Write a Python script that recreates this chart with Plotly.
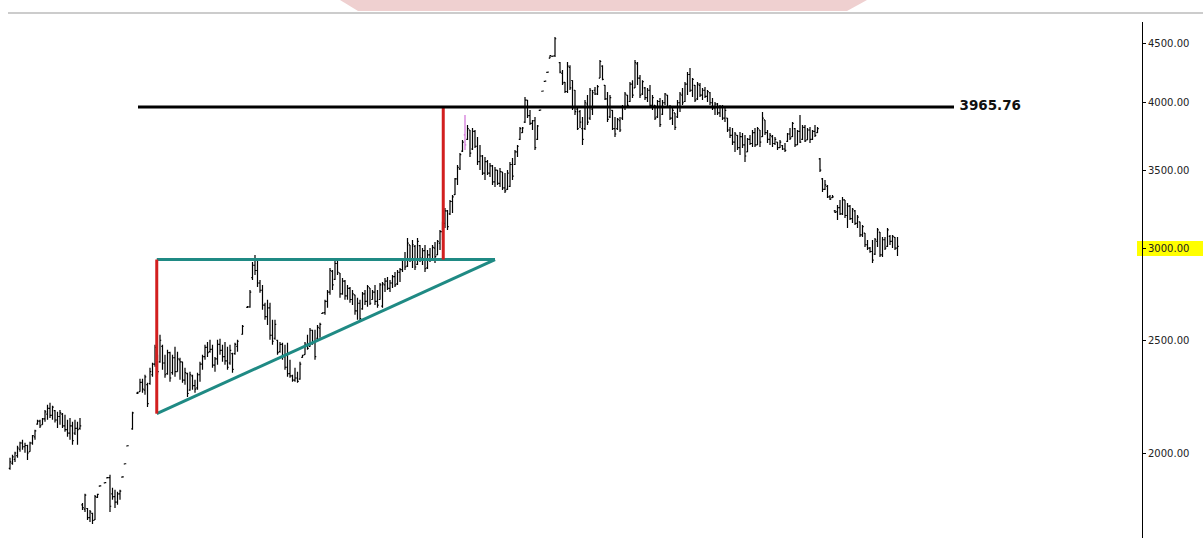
import plotly.graph_objects as go

# ---- OHLC bars: (day, open, high, low, close) ----
base_bars = [
    (0, 1940, 1981, 1935, 1965), (1, 1960, 1993, 1954, 1985), (2, 1975, 2005, 1965, 2000),
    (3, 1990, 2029, 1981, 2020), (4, 2015, 2045, 2005, 2040), (5, 2040, 2053, 2013, 2025),
    (6, 2025, 2041, 2001, 2030), (7, 2030, 2033, 1973, 2000), (8, 2005, 2045, 2005, 2040),
    (9, 2040, 2073, 2033, 2070), (10, 2065, 2094, 2053, 2090), (11, 2118, 2136, 2115, 2130),
    (12, 2130, 2136, 2102, 2110), (13, 2115, 2144, 2115, 2140), (14, 2140, 2178, 2128, 2170),
    (15, 2160, 2200, 2136, 2185), (16, 2185, 2209, 2144, 2155), (17, 2155, 2196, 2136, 2190),
    (18, 2175, 2178, 2124, 2135), (19, 2135, 2170, 2102, 2150), (20, 2150, 2178, 2115, 2165),
    (21, 2160, 2165, 2102, 2110), (22, 2110, 2157, 2086, 2095), (23, 2095, 2136, 2065, 2080),
    (24, 2080, 2144, 2053, 2110), (25, 2110, 2128, 2033, 2050), (26, 2080, 2136, 2073, 2100),
    (27, 2100, 2128, 2033, 2095), (28, 2100, 2144, 2094, 2110),
]

gap_bars = [
    (29, 1805, 1812, 1787, 1795), (30, 1790, 1845, 1780, 1840), (31, 1792, 1794, 1752, 1760),
    (32, 1760, 1787, 1745, 1780), (33, 1775, 1777, 1738, 1750), (34, 1752, 1841, 1752, 1835),
    (35, 1832, 1845, 1830, 1843), (36, 1873, 1876, 1872, 1874), (38, 1885, 1888, 1884, 1886),
    (39, 1904, 1907, 1903, 1905), (40, 1905, 1916, 1780, 1800), (41, 1845, 1867, 1823, 1835),
    (42, 1835, 1860, 1794, 1815), (43, 1815, 1852, 1805, 1845), (44, 1845, 1860, 1823, 1855),
    (45, 1907, 1910, 1906, 1908), (46, 1957, 1960, 1956, 1958), (47, 2028, 2031, 2027, 2029),
    (49, 2098, 2170, 2094, 2165), (51, 2252, 2258, 2248, 2253), (52, 2258, 2317, 2258, 2300),
    (53, 2300, 2317, 2253, 2270), (54, 2265, 2335, 2244, 2325), (55, 2290, 2298, 2191, 2205),
    (56, 2295, 2368, 2289, 2350), (57, 2335, 2391, 2326, 2385), (58, 2385, 2478, 2372, 2465),
]

triangle_bars = [
    (59, 2410, 2429, 2335, 2350), (60, 2395, 2527, 2391, 2500), (61, 2470, 2478, 2358, 2390),
    (62, 2390, 2429, 2321, 2335), (63, 2340, 2453, 2335, 2440), (64, 2440, 2444, 2303, 2320),
    (65, 2345, 2429, 2335, 2415), (66, 2415, 2468, 2326, 2350), (67, 2350, 2444, 2349, 2410),
    (68, 2405, 2415, 2312, 2395), (69, 2395, 2396, 2298, 2310), (70, 2310, 2368, 2289, 2345),
    (71, 2340, 2344, 2235, 2250), (72, 2265, 2349, 2262, 2335), (73, 2330, 2335, 2267, 2285),
    (74, 2285, 2312, 2253, 2270), (75, 2275, 2344, 2267, 2335), (76, 2335, 2396, 2303, 2385),
    (77, 2385, 2429, 2358, 2420), (78, 2420, 2478, 2405, 2465), (79, 2465, 2492, 2419, 2440),
    (80, 2445, 2502, 2439, 2455), (81, 2455, 2478, 2368, 2380), (82, 2380, 2419, 2349, 2410),
    (83, 2410, 2502, 2382, 2480), (84, 2480, 2507, 2429, 2450), (85, 2450, 2478, 2396, 2420),
    (86, 2420, 2492, 2382, 2400), (87, 2400, 2468, 2358, 2370), (88, 2390, 2478, 2382, 2450),
    (89, 2435, 2439, 2344, 2360), (90, 2435, 2488, 2429, 2480), (91, 2470, 2502, 2444, 2495),
    (93, 2530, 2577, 2527, 2570), (95, 2668, 2675, 2665, 2671), (96, 2670, 2762, 2666, 2750),
    (97, 2830, 2919, 2817, 2900), (98, 2900, 2960, 2845, 2870), (99, 2870, 2931, 2778, 2800),
    (100, 2800, 2817, 2746, 2760), (101, 2760, 2789, 2655, 2680), (102, 2680, 2692, 2603, 2620),
    (103, 2620, 2708, 2577, 2665), (104, 2665, 2692, 2502, 2525), (105, 2525, 2603, 2478, 2495),
    (106, 2510, 2603, 2502, 2580), (107, 2500, 2502, 2429, 2440), (108, 2445, 2492, 2439, 2480),
    (109, 2480, 2488, 2405, 2420), (110, 2420, 2478, 2358, 2370), (111, 2370, 2488, 2326, 2340),
    (112, 2340, 2405, 2321, 2330), (113, 2330, 2335, 2303, 2310), (114, 2310, 2368, 2303, 2320),
    (115, 2320, 2349, 2298, 2305), (116, 2315, 2396, 2312, 2385), (117, 2417, 2429, 2415, 2427),
    (118, 2430, 2492, 2429, 2480), (119, 2480, 2527, 2453, 2460), (120, 2470, 2562, 2468, 2550),
    (121, 2550, 2552, 2478, 2490), (122, 2490, 2552, 2405, 2420), (123, 2510, 2577, 2502, 2565),
    (124, 2560, 2588, 2512, 2580), (125, 2636, 2642, 2634, 2639), (126, 2640, 2708, 2629, 2700),
    (127, 2700, 2762, 2666, 2750), (128, 2750, 2884, 2735, 2870), (129, 2865, 2873, 2762, 2790),
    (130, 2820, 2931, 2817, 2910), (131, 2910, 2942, 2845, 2860), (132, 2856, 2856, 2719, 2740),
    (133, 2740, 2828, 2735, 2810), (134, 2810, 2817, 2708, 2730), (135, 2730, 2789, 2708, 2770),
    (136, 2770, 2778, 2692, 2710), (137, 2710, 2762, 2681, 2740), (138, 2735, 2735, 2629, 2650),
    (139, 2650, 2719, 2603, 2690), (140, 2690, 2708, 2593, 2610), (141, 2660, 2751, 2655, 2740),
    (142, 2740, 2762, 2681, 2700), (143, 2700, 2789, 2671, 2780), (144, 2773, 2773, 2681, 2690),
    (145, 2710, 2762, 2708, 2750), (146, 2750, 2789, 2681, 2700), (147, 2700, 2762, 2666, 2680),
    (148, 2710, 2800, 2708, 2790), (149, 2675, 2806, 2666, 2795), (150, 2790, 2828, 2751, 2810),
    (151, 2810, 2834, 2762, 2770), (152, 2770, 2817, 2751, 2800), (153, 2800, 2845, 2773, 2835),
    (154, 2835, 2862, 2778, 2790), (155, 2795, 2873, 2789, 2860), (156, 2860, 2884, 2806, 2875),
    (157, 2875, 2942, 2862, 2930), (158, 2930, 2977, 2873, 2890), (159, 2895, 3061, 2890, 3030),
    (160, 3019, 3019, 2919, 2930), (161, 2930, 3049, 2884, 3020), (162, 3010, 3019, 2873, 2890),
    (163, 2905, 3061, 2902, 3040), (164, 3015, 3019, 2919, 2940), (165, 2940, 3001, 2902, 2985),
    (166, 2985, 3019, 2862, 2880), (167, 2885, 2989, 2879, 2960), (168, 2960, 3001, 2919, 2930),
    (169, 2935, 3019, 2931, 3005), (170, 3000, 3037, 2913, 2950), (171, 2960, 3049, 2960, 3040),
]

breakout_bars = [
    (172, 3030, 3110, 2989, 3100), (173, 3100, 3160, 3049, 3150), (174, 3150, 3248, 3122, 3230),
    (175, 3230, 3235, 3110, 3130), (176, 3210, 3300, 3203, 3290), (177, 3290, 3333, 3216, 3320),
    (178, 3335, 3447, 3333, 3440), (179, 3440, 3537, 3399, 3520), (180, 3510, 3621, 3502, 3610),
    (181, 3635, 3716, 3629, 3700), (183, 3720, 3828, 3716, 3800), (184, 3790, 3790, 3593, 3620),
    (185, 3650, 3805, 3643, 3780), (186, 3780, 3790, 3657, 3670), (187, 3670, 3738, 3537, 3560),
    (188, 3560, 3679, 3502, 3600), (189, 3600, 3607, 3467, 3480), (190, 3480, 3593, 3433, 3560),
    (191, 3560, 3572, 3467, 3480), (192, 3480, 3551, 3453, 3530), (193, 3530, 3537, 3399, 3420),
    (194, 3420, 3523, 3386, 3500), (195, 3500, 3502, 3399, 3410), (196, 3410, 3516, 3386, 3490),
    (197, 3488, 3488, 3366, 3380), (198, 3380, 3481, 3346, 3360), (199, 3370, 3502, 3366, 3480),
    (200, 3390, 3558, 3386, 3540), (201, 3540, 3586, 3433, 3460), (202, 3540, 3643, 3537, 3630),
    (203, 3630, 3679, 3593, 3670), (204, 3720, 3813, 3716, 3800), (205, 3770, 3813, 3768, 3805),
    (206, 3850, 4045, 3843, 4020), (207, 4020, 4021, 3881, 3900), (208, 3900, 3943, 3828, 3840),
    (209, 3840, 3866, 3790, 3860), (210, 3860, 3889, 3643, 3660), (211, 3720, 3828, 3716, 3820),
]

highlight_bar = [(182, 3753, 3904, 3643, 3680)]

top_bars = [
    (212, 3940, 3946, 3938, 3943), (213, 4092, 4096, 4090, 4094), (214, 4173, 4177, 4171, 4175),
    (215, 4248, 4252, 4246, 4250), (216, 4370, 4395, 4369, 4392), (217, 4384, 4389, 4382, 4386),
    (218, 4390, 4555, 4378, 4540), (220, 4330, 4335, 4241, 4250), (221, 4240, 4267, 4142, 4160),
    (222, 4165, 4167, 4077, 4090), (223, 4090, 4335, 4077, 4300), (224, 4290, 4309, 4102, 4120),
    (225, 4180, 4183, 3943, 3960), (226, 4100, 4102, 3904, 3930), (227, 3950, 3966, 3790, 3800),
    (228, 3930, 3943, 3805, 3850), (229, 3800, 3889, 3679, 3720), (230, 3800, 4021, 3790, 4000),
    (231, 3990, 4061, 3828, 3850), (232, 3880, 4118, 3866, 4100), (233, 3950, 4102, 3904, 4080),
    (234, 4100, 4126, 4061, 4070), (235, 4070, 4142, 4061, 4130), (236, 4200, 4352, 4200, 4340),
    (237, 4300, 4309, 4183, 4190), (238, 4140, 4142, 4021, 4030), (239, 4030, 4086, 3851, 3870),
    (240, 3890, 4061, 3881, 4040), (241, 3940, 3943, 3790, 3800), (242, 3800, 3889, 3738, 3760),
    (243, 3800, 3881, 3790, 3870), (244, 3860, 3889, 3775, 3790), (245, 3880, 3982, 3866, 3970),
    (246, 3970, 4086, 3943, 4070), (247, 4060, 4061, 3958, 3980), (248, 4010, 4167, 4005, 4150),
    (249, 4150, 4183, 4037, 4060), (250, 4120, 4352, 4118, 4330), (251, 4320, 4335, 4142, 4200),
    (252, 4200, 4225, 4037, 4060), (253, 4070, 4183, 4061, 4170), (254, 4120, 4126, 4021, 4040),
    (255, 4040, 4118, 4005, 4100), (256, 4100, 4142, 3958, 3980), (257, 3980, 4061, 3943, 4040),
    (258, 3980, 3982, 3866, 3880), (259, 3890, 4021, 3881, 4010), (260, 4010, 4037, 3813, 3830),
    (261, 3910, 4021, 3904, 4000), (262, 4000, 4077, 3982, 4070), (263, 4060, 4061, 3958, 3970),
    (264, 3970, 3982, 3866, 3880), (265, 3880, 3958, 3828, 3940), (266, 3920, 3920, 3790, 3810),
    (267, 3890, 4021, 3881, 4000), (268, 4000, 4086, 3927, 4070), (269, 4060, 4118, 3982, 4000),
    (270, 4010, 4167, 4005, 4150), (271, 4150, 4250, 4061, 4230), (272, 4230, 4284, 4086, 4100),
    (273, 4100, 4200, 4045, 4190), (274, 4140, 4142, 4005, 4020), (275, 4030, 4167, 4021, 4150),
    (276, 4140, 4159, 4045, 4060), (277, 4060, 4118, 4021, 4100), (278, 4100, 4126, 4037, 4050),
    (279, 4050, 4102, 4005, 4090), (280, 4080, 4086, 3982, 4000), (281, 4000, 4037, 3943, 3960),
    (282, 3960, 4005, 3904, 3990), (283, 3990, 3997, 3904, 3920), (284, 3920, 3982, 3889, 3970),
    (285, 3970, 3982, 3866, 3880), (286, 3880, 3958, 3851, 3940), (287, 3880, 3881, 3775, 3790),
    (288, 3790, 3813, 3731, 3750), (289, 3750, 3805, 3679, 3700), (290, 3700, 3775, 3629, 3760),
    (291, 3750, 3753, 3643, 3660), (292, 3660, 3775, 3607, 3740), (293, 3740, 3768, 3657, 3680),
    (294, 3680, 3753, 3558, 3600), (295, 3630, 3731, 3629, 3720), (296, 3720, 3753, 3679, 3690),
    (297, 3690, 3790, 3665, 3770), (298, 3770, 3805, 3665, 3680), (299, 3680, 3813, 3679, 3800),
    (300, 3790, 3790, 3665, 3700), (301, 3740, 3927, 3738, 3880), (302, 3866, 3866, 3753, 3770),
    (303, 3770, 3790, 3694, 3720), (304, 3720, 3768, 3679, 3750), (305, 3740, 3753, 3665, 3690),
    (306, 3690, 3738, 3679, 3720), (307, 3700, 3701, 3643, 3660), (308, 3660, 3716, 3657, 3700),
    (309, 3675, 3679, 3643, 3650), (310, 3650, 3694, 3629, 3640), (311, 3705, 3768, 3701, 3760),
    (312, 3760, 3805, 3716, 3730), (313, 3740, 3851, 3738, 3840), (314, 3800, 3805, 3665, 3680),
    (315, 3680, 3790, 3679, 3780), (316, 3780, 3904, 3694, 3700), (317, 3720, 3828, 3716, 3810),
    (318, 3810, 3828, 3701, 3710), (319, 3716, 3805, 3716, 3790), (320, 3790, 3813, 3694, 3720),
    (321, 3720, 3790, 3716, 3780), (322, 3780, 3828, 3738, 3750), (323, 3770, 3813, 3768, 3800),
]

decline_bars = [
    (324, 3580, 3586, 3488, 3500), (325, 3440, 3447, 3353, 3370), (326, 3370, 3433, 3366, 3400),
    (327, 3390, 3399, 3313, 3320), (328, 3320, 3333, 3300, 3305), (329, 3315, 3333, 3313, 3320),
    (330, 3230, 3235, 3216, 3220), (331, 3225, 3267, 3172, 3250), (332, 3250, 3300, 3203, 3210),
    (333, 3210, 3320, 3203, 3300), (334, 3300, 3300, 3184, 3200), (335, 3200, 3280, 3122, 3260),
    (336, 3260, 3267, 3172, 3180), (337, 3180, 3248, 3153, 3240), (338, 3230, 3235, 3141, 3150),
    (339, 3150, 3203, 3122, 3190), (340, 3160, 3160, 3067, 3080), (341, 3080, 3141, 3067, 3130),
    (342, 3090, 3091, 3007, 3020), (343, 3020, 3049, 2989, 3000), (344, 3000, 3007, 2972, 2980),
    (345, 2980, 3049, 2913, 2930), (346, 2965, 3061, 2960, 3050), (347, 3040, 3122, 3007, 3110),
    (348, 3097, 3097, 2948, 2960), (349, 2960, 3067, 2948, 3050), (350, 3050, 3067, 2989, 3000),
    (351, 3010, 3122, 3007, 3110), (352, 3070, 3079, 3019, 3040), (353, 3040, 3079, 3001, 3070),
    (354, 3065, 3067, 2989, 3000), (355, 3000, 3067, 2954, 3010),
]

# ---- drawn pattern levels ----
resistance = 3965.76
resistance_days = [51.2, 377.6]
triangle_top = 2933
triangle_low = 2162
triangle_start_day = 58.7
triangle_apex_day = 194.0
breakout_day = 173.3
label_day = 379.8

y_ticks = [2000, 2500, 3000, 3500, 4000, 4500]
y_ticktext = ["2000.00", "2500.00", "3000.00", "3500.00", "4000.00", "4500.00"]


def unpack(rows):
    return [list(c) for c in zip(*rows)]


rows = base_bars + gap_bars + triangle_bars + breakout_bars + top_bars + decline_bars
day, op, hi, lo, cl = unpack(rows)
hd, ho, hh, hl, hc = unpack(highlight_bar)

BAR = "#000000"
TEAL = "#1f8a84"
RED = "#d21f1f"

fig = go.Figure()
fig.add_trace(go.Ohlc(
    x=day, open=op, high=hi, low=lo, close=cl, tickwidth=0.5,
    increasing=dict(line=dict(color=BAR, width=1.2)),
    decreasing=dict(line=dict(color=BAR, width=1.2)),
    hoverinfo="skip", showlegend=False))
fig.add_trace(go.Ohlc(
    x=hd, open=ho, high=hh, low=hl, close=hc, tickwidth=0.5,
    increasing=dict(line=dict(color="#d070d8", width=1.2)),
    decreasing=dict(line=dict(color="#d070d8", width=1.2)),
    hoverinfo="skip", showlegend=False))

# triangle
fig.add_trace(go.Scatter(x=[triangle_start_day, triangle_apex_day], y=[triangle_top, triangle_top],
                         mode="lines", line=dict(color=TEAL, width=3), hoverinfo="skip", showlegend=False))
fig.add_trace(go.Scatter(x=[triangle_start_day, triangle_apex_day], y=[triangle_low, triangle_top],
                         mode="lines", line=dict(color=TEAL, width=3), hoverinfo="skip", showlegend=False))
# red measures
fig.add_trace(go.Scatter(x=[triangle_start_day, triangle_start_day], y=[triangle_low, triangle_top],
                         mode="lines", line=dict(color=RED, width=3), hoverinfo="skip", showlegend=False))
fig.add_trace(go.Scatter(x=[breakout_day, breakout_day], y=[triangle_top, resistance],
                         mode="lines", line=dict(color=RED, width=3), hoverinfo="skip", showlegend=False))
# resistance line
fig.add_trace(go.Scatter(x=resistance_days, y=[resistance, resistance],
                         mode="lines", line=dict(color="#000000", width=3), hoverinfo="skip", showlegend=False))
fig.add_trace(go.Scatter(x=[label_day], y=[resistance], mode="text", text=[f"{resistance:.2f}"],
                         textposition="middle right",
                         textfont=dict(family="DejaVu Sans", size=13.5, color="#111111", weight="bold"),
                         hoverinfo="skip", showlegend=False))

W = 1142.0
H = 516.0
fig.update_layout(
    width=1203, height=538,
    margin=dict(l=0, r=61, t=22, b=0),
    paper_bgcolor="white", plot_bgcolor="rgba(0,0,0,0)",
    showlegend=False,
    font=dict(family="DejaVu Sans", size=10, color="#222222"),
    xaxis=dict(visible=False, range=[-4, 452.8], rangeslider=dict(visible=False), fixedrange=True),
    yaxis=dict(type="log", range=[3.2280, 3.67145], side="right",
               tickvals=y_ticks, ticktext=y_ticktext,
               showgrid=False, zeroline=False, showline=True, linecolor="#000000", linewidth=1,
               ticks="outside", ticklen=3, tickcolor="#000000",
               tickfont=dict(family="DejaVu Sans", size=10, color="#222222"), fixedrange=True),
    shapes=[
        dict(type="path", xref="paper", yref="paper", layer="below",
             path=f"M {340/W},{1+22/H} L {358/W},{1+11/H} L {847/W},{1+11/H} L {867/W},{1+22/H} Z",
             fillcolor="#efd0d0", line=dict(width=0)),
        dict(type="line", xref="paper", yref="paper", x0=8/W, x1=1203/W, y0=(538-13)/H, y1=(538-13)/H,
             line=dict(color="#cccccc", width=2)),
        dict(type="rect", xref="paper", yref="paper", layer="below",
             x0=1137/W, x1=1203/W, y0=(538-256)/H, y1=(538-241)/H,
             fillcolor="#ffff00", line=dict(width=0)),
    ],
)

fig.write_html("out.html", config={"displayModeBar": False},
               post_script="document.body.style.margin='0';")
